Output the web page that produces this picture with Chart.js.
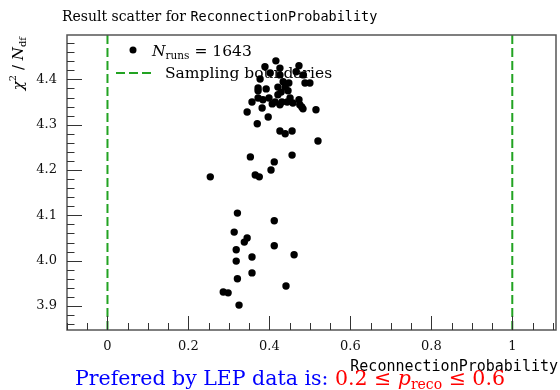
<!DOCTYPE html>
<html>
<head>
<meta charset="utf-8">
<script src="https://cdn.jsdelivr.net/npm/chart.js@4.4.1/dist/chart.umd.min.js"></script>
<style>
  html, body { margin: 0; padding: 0; background: #fff; }
  #wrap { width: 560px; height: 390px; position: relative; }
</style>
</head>
<body>
<div id="wrap"><canvas id="scatterChart"></canvas></div>
<script>
// points: reconnection probability vs chi2/ndf
var probValues = [
  0.416, 0.389, 0.426, 0.473, 0.466, 0.402, 0.426, 0.484, 0.377, 0.434,
  0.448, 0.488, 0.500, 0.372, 0.392, 0.421, 0.439, 0.372, 0.429, 0.446,
  0.421, 0.451, 0.372, 0.384, 0.399, 0.414, 0.426, 0.407, 0.431, 0.444,
  0.458, 0.473, 0.475, 0.480, 0.483, 0.357, 0.382, 0.345, 0.515, 0.397,
  0.370, 0.426, 0.439, 0.456, 0.520,
  0.456, 0.353, 0.412, 0.404, 0.254, 0.365, 0.375,
  0.321, 0.412, 0.313, 0.345, 0.338, 0.318, 0.412, 0.318, 0.357, 0.461,
  0.357, 0.321, 0.441, 0.286, 0.298, 0.325
];
var chi2Values = [
  4.441, 4.428, 4.425, 4.430, 4.417, 4.414, 4.410, 4.410, 4.401, 4.395,
  4.392, 4.392, 4.392, 4.381, 4.379, 4.383, 4.383, 4.375, 4.372, 4.375,
  4.366, 4.359, 4.359, 4.355, 4.359, 4.350, 4.344, 4.346, 4.350, 4.350,
  4.348, 4.355, 4.344, 4.339, 4.335, 4.350, 4.337, 4.328, 4.333, 4.317,
  4.302, 4.286, 4.280, 4.286, 4.264,
  4.233, 4.229, 4.218, 4.200, 4.185, 4.189, 4.185,
  4.105, 4.088, 4.063, 4.050, 4.041, 4.024, 4.033, 3.999, 4.008, 4.013,
  3.973, 3.960, 3.944, 3.931, 3.929, 3.902
];
var boundaries = [0, 1];
var xTickLabels = [0, 0.2, 0.4, 0.6, 0.8, 1];
var yTickLabels = [3.9, 4.0, 4.1, 4.2, 4.3, 4.4];
var nRuns = 1643;

var X_MIN = -0.1, X_MAX = 1.108;
var Y_MIN = 3.847, Y_MAX = 4.498;
var SERIF = '"DejaVu Serif", serif';
var MONO = '"DejaVu Sans Mono", monospace';
var GREEN = '#22a322';

var points = probValues.map(function (p, i) { return { x: p, y: chi2Values[i] }; });
var boundaryLine = [];
boundaries.forEach(function (b) {
    boundaryLine.push({ x: b, y: Y_MIN }, { x: b, y: Y_MAX }, { x: b, y: null });
});

function range(a, b, step) {
    var out = [];
    for (var v = a; v <= b + 1e-9; v += step) out.push(Math.round(v * 1000) / 1000);
    return out;
}

// inward ticks, frame, titles, legend
var decorations = {
    id: 'decorations',
    afterDraw: function (chart) {
        var ctx = chart.ctx, a = chart.chartArea;
        var xs = chart.scales.x, ys = chart.scales.y;
        ctx.save();

        // frame
        ctx.strokeStyle = '#555';
        ctx.lineWidth = 1.5;
        ctx.strokeRect(a.left, a.top, a.right - a.left, a.bottom - a.top);

        // ticks
        ctx.strokeStyle = '#333';
        ctx.lineWidth = 1;
        ctx.beginPath();
        range(-0.1, 1.1, 0.05).forEach(function (v) {
            var px = Math.round(xs.getPixelForValue(v)) + 0.5;
            var major = xTickLabels.some(function (t) { return Math.abs(t - v) < 1e-6; });
            ctx.moveTo(px, a.bottom);
            ctx.lineTo(px, a.bottom - (major ? 14 : 7));
        });
        range(3.86, 4.48, 0.02).forEach(function (v) {
            var py = Math.round(ys.getPixelForValue(v)) + 0.5;
            var major = yTickLabels.some(function (t) { return Math.abs(t - v) < 1e-6; });
            ctx.moveTo(a.left, py);
            ctx.lineTo(a.left + (major ? 15 : 7.5), py);
        });
        ctx.stroke();

        ctx.fillStyle = '#000';
        ctx.textBaseline = 'alphabetic';

        // title
        ctx.font = '14px ' + SERIF;
        var t1 = 'Result scatter for ';
        ctx.fillText(t1, 62, 21);
        var w1 = ctx.measureText(t1).width;
        ctx.font = '13.5px ' + MONO;
        ctx.fillText('ReconnectionProbability', 62 + w1, 21);

        // x axis label
        ctx.font = '15px ' + MONO;
        ctx.textAlign = 'right';
        ctx.fillText('ReconnectionProbability', 558, 371);
        ctx.textAlign = 'left';

        // y axis label, rotated
        ctx.save();
        var parts = [
            { s: 'χ', f: 'italic 15px ' + SERIF, dy: 0 },
            { s: '2', f: '10px ' + SERIF, dy: -7 },
            { s: ' / ', f: '15px ' + SERIF, dy: 0 },
            { s: 'N', f: 'italic 15px ' + SERIF, dy: 0 },
            { s: 'df', f: '10px ' + SERIF, dy: 3 }
        ];
        var total = 0;
        parts.forEach(function (p) { ctx.font = p.f; total += ctx.measureText(p.s).width; });
        ctx.translate(23, 37 + total);
        ctx.rotate(-Math.PI / 2);
        var cx = 0;
        parts.forEach(function (p) {
            ctx.font = p.f;
            ctx.fillText(p.s, cx, p.dy);
            cx += ctx.measureText(p.s).width;
        });
        ctx.restore();

        // legend
        ctx.beginPath();
        ctx.arc(133, 50, 3.5, 0, Math.PI * 2);
        ctx.fill();
        ctx.font = 'italic 15.5px ' + SERIF;
        ctx.fillText('N', 152, 56);
        var lx = 152 + ctx.measureText('N').width;
        ctx.font = '10.5px ' + SERIF;
        ctx.fillText('runs', lx, 59);
        lx += ctx.measureText('runs').width;
        ctx.font = '15.5px ' + SERIF;
        ctx.fillText(' = ' + nRuns, lx, 56);

        ctx.strokeStyle = GREEN;
        ctx.lineWidth = 2;
        ctx.setLineDash([9, 4]);
        ctx.beginPath();
        ctx.moveTo(116, 73);
        ctx.lineTo(152, 73);
        ctx.stroke();
        ctx.setLineDash([]);
        ctx.fillText('Sampling boundaries', 165, 78);

        // bottom note
        var bx = 75, by = 385;
        ctx.font = '20.5px ' + SERIF;
        ctx.fillStyle = '#0000ff';
        var n1 = 'Prefered by LEP data is: ';
        ctx.fillText(n1, bx, by);
        bx += ctx.measureText(n1).width;
        ctx.fillStyle = '#ff0000';
        ctx.fillText('0.2 ≤ ', bx, by);
        bx += ctx.measureText('0.2 ≤ ').width;
        ctx.font = 'italic 20.5px ' + SERIF;
        ctx.fillText('p', bx, by);
        bx += ctx.measureText('p').width;
        ctx.font = '14px ' + SERIF;
        ctx.fillText('reco', bx, by + 4);
        bx += ctx.measureText('reco').width;
        ctx.font = '20.5px ' + SERIF;
        ctx.fillText(' ≤ 0.6', bx, by);

        ctx.restore();
    }
};

var ctx = document.getElementById('scatterChart').getContext('2d');
var myChart = new Chart(ctx, {
    type: 'scatter',
    data: {
        datasets: [{
            label: 'N_runs = ' + nRuns,
            data: points,
            backgroundColor: '#000',
            borderWidth: 0,
            pointRadius: 3.7,
            order: 1
        }, {
            type: 'line',
            label: 'Sampling boundaries',
            data: boundaryLine,
            borderColor: GREEN,
            borderWidth: 2,
            borderDash: [9, 4],
            pointRadius: 0,
            spanGaps: false,
            fill: false,
            order: 2
        }]
    },
    options: {
        responsive: true,
        maintainAspectRatio: false,
        animation: false,
        layout: { padding: { top: 35, right: 2, left: 0, bottom: 0 } },
        plugins: {
            legend: { display: false },
            title: { display: false },
            tooltip: { enabled: false }
        },
        scales: {
            x: {
                type: 'linear',
                min: X_MIN,
                max: X_MAX,
                afterBuildTicks: function (s) { s.ticks = xTickLabels.map(function (v) { return { value: v }; }); },
                afterFit: function (s) { s.height = 60; },
                grid: { display: false, drawTicks: false },
                border: { display: false },
                ticks: {
                    padding: 9,
                    color: '#111',
                    font: { family: SERIF, size: 13 },
                    maxRotation: 0,
                    callback: function (v) { return String(v); }
                }
            },
            y: {
                type: 'linear',
                min: Y_MIN,
                max: Y_MAX,
                afterBuildTicks: function (s) { s.ticks = yTickLabels.map(function (v) { return { value: v }; }); },
                afterFit: function (s) { s.width = 67; },
                grid: { display: false, drawTicks: false },
                border: { display: false },
                ticks: {
                    padding: 10,
                    color: '#111',
                    font: { family: SERIF, size: 13 },
                    callback: function (v) { return v.toFixed(1); }
                }
            }
        }
    },
    plugins: [decorations]
});
</script>
</body>
</html>
